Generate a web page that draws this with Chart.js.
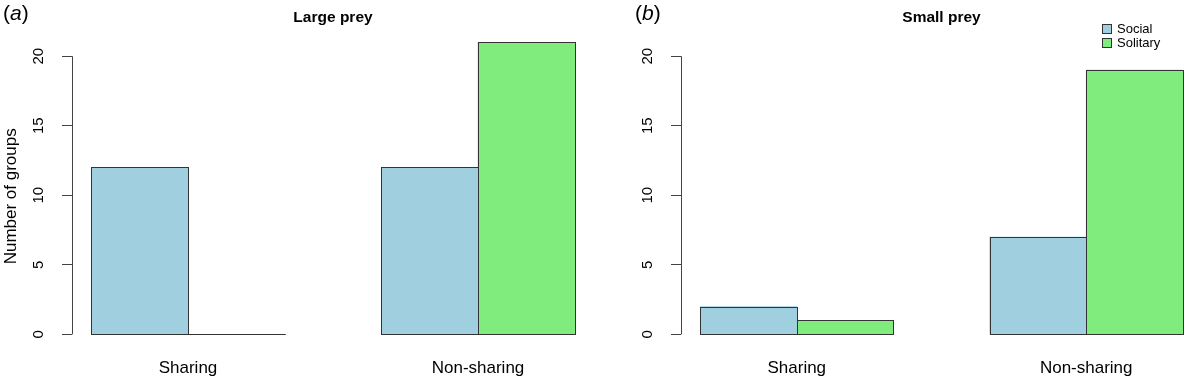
<!DOCTYPE html>
<html><head><meta charset="utf-8">
<script src="https://cdn.jsdelivr.net/npm/chart.js@4"></script>
<style>
html,body{margin:0;padding:0;background:#fff;overflow:hidden;width:1188px;height:379px;position:relative}
#a{position:absolute;left:0;top:0}
#b{position:absolute;left:594px;top:0}
</style></head><body>
<canvas id="a" width="594" height="379"></canvas>
<canvas id="b" width="608" height="379"></canvas>
<script>
const categories = ['Sharing', 'Non-sharing'];
const seriesNames = ['Social', 'Solitary'];
const largeSocial = [12, 12];
const largeSolitary = [0, 21];
const smallSocial = [2, 7];
const smallSolitary = [1, 19];
const yTicks = [0, 5, 10, 15, 20];
const yAxisTitle = 'Number of groups';
const seriesColors = ['#a0cfe0', '#80ec7e'];

const FONT = "'Liberation Sans', Arial, Helvetica, sans-serif";
Chart.defaults.font.family = FONT;
Chart.defaults.color = '#000';

const rStyle = {
  id: 'rStyle',
  afterDatasetsDraw(chart) {
    const ctx = chart.ctx;
    ctx.save();
    ctx.strokeStyle = '#333';
    ctx.lineWidth = 1;
    chart.data.datasets.forEach((ds, i) => {
      chart.getDatasetMeta(i).data.forEach(el => {
        const p = el.getProps(['x', 'y', 'base', 'width'], true);
        const l = Math.round(p.x - p.width / 2) + 0.5;
        const r = Math.round(p.x + p.width / 2) + 0.5;
        const t = Math.round(p.y) + 0.5;
        const b = Math.round(p.base) + 0.5;
        ctx.strokeRect(l, Math.min(t, b), r - l, Math.abs(b - t));
      });
    });
    ctx.restore();
  },
  afterDraw(chart, args, opts) {
    const ctx = chart.ctx;
    const ys = chart.scales.y;
    ctx.save();
    const x = Math.round(ys.right) + 0.5;
    ctx.strokeStyle = '#444';
    ctx.lineWidth = 1;
    ctx.beginPath();
    ctx.moveTo(x, ys.getPixelForValue(yTicks[0]));
    ctx.lineTo(x, ys.getPixelForValue(yTicks[yTicks.length - 1]));
    ctx.stroke();
    ctx.fillStyle = '#000';
    ctx.font = '15px ' + FONT;
    ctx.textAlign = 'center';
    ctx.textBaseline = 'middle';
    yTicks.forEach(v => {
      ctx.save();
      ctx.translate(ys.right - 33, ys.getPixelForValue(v));
      ctx.rotate(-Math.PI / 2);
      ctx.fillText(String(v), 0, 0);
      ctx.restore();
    });
    if (opts.yTitle) {
      ctx.save();
      ctx.font = '17px ' + FONT;
      ctx.translate(11, (ys.top + ys.bottom) / 2 + 8);
      ctx.rotate(-Math.PI / 2);
      ctx.fillText(yAxisTitle, 0, 0);
      ctx.restore();
    }
    ctx.textAlign = 'left';
    ctx.textBaseline = 'alphabetic';
    let tx = opts.tagX;
    const ty = 20;
    ctx.font = '21px ' + FONT;
    ctx.fillText('(', tx, ty); tx += ctx.measureText('(').width;
    ctx.font = 'italic 21px ' + FONT;
    ctx.fillText(opts.tag, tx, ty); tx += ctx.measureText(opts.tag).width;
    ctx.font = '21px ' + FONT;
    ctx.fillText(')', tx, ty);
    if (opts.legend) {
      ctx.font = '13px ' + FONT;
      ctx.textBaseline = 'middle';
      chart.data.datasets.forEach((ds, i) => {
        const ly = opts.legendY + i * 14;
        ctx.fillStyle = ds.backgroundColor;
        ctx.fillRect(opts.legendX + 0.5, Math.round(ly - 5) + 0.5, 9, 9);
        ctx.strokeStyle = '#333';
        ctx.strokeRect(opts.legendX + 0.5, Math.round(ly - 5) + 0.5, 9, 9);
        ctx.fillStyle = '#000';
        ctx.fillText(ds.label, opts.legendX + 15, ly);
      });
    }
    ctx.restore();
  }
};

function makeChart(id, title, tag, social, solitary, yWidth, showYTitle, legend) {
  const datasets = [social, solitary].map((vals, si) => ({
    label: seriesNames[si],
    data: vals.map((v, gi) => ({ x: 1.5 + gi * 3 + si, y: v })),
    backgroundColor: seriesColors[si],
    borderWidth: 0,
    grouped: false,
    barPercentage: 1,
    categoryPercentage: 1
  }));
  return new Chart(document.getElementById(id), {
    type: 'bar',
    data: { datasets },
    plugins: [rStyle],
    options: {
      responsive: false,
      animation: false,
      layout: { padding: 0 },
      scales: {
        x: {
          type: 'linear',
          offset: false,
          min: 0.8, max: 6.2,
          grid: { display: false, drawTicks: false, offset: false },
          border: { display: false },
          afterBuildTicks: s => { s.ticks = categories.map((c, gi) => ({ value: 2 + gi * 3 })); },
          afterFit: s => { s.height = 33; },
          ticks: {
            autoSkip: false, maxRotation: 0, minRotation: 0, padding: 12,
            font: { size: 17 }, color: '#000',
            callback: (v, i) => categories[i]
          }
        },
        y: {
          min: -0.84, max: 21.84,
          afterBuildTicks: s => { s.ticks = yTicks.map(v => ({ value: v })); },
          afterFit: s => { s.width = yWidth; },
          grid: { display: true, drawOnChartArea: false, drawTicks: true, tickLength: 10, color: '#444', lineWidth: 1 },
          border: { display: false },
          ticks: { display: false },
          title: { display: false }
        }
      },
      plugins: {
        legend: { display: false },
        tooltip: { enabled: false },
        title: {
          display: true, text: title, fullSize: false,
          font: { size: 15.5, weight: 'bold' }, color: '#000',
          padding: { top: 8, bottom: 4 }
        },
        rStyle: { tag, tagX: showYTitle ? 3 : 41, legend, legendX: 508, legendY: 29, yTitle: showYTitle }
      }
    }
  });
}

makeChart('a', 'Large prey', 'a', largeSocial, largeSolitary, 72, true, false);
makeChart('b', 'Small prey', 'b', smallSocial, smallSolitary, 87, false, true);
</script>
</body></html>
